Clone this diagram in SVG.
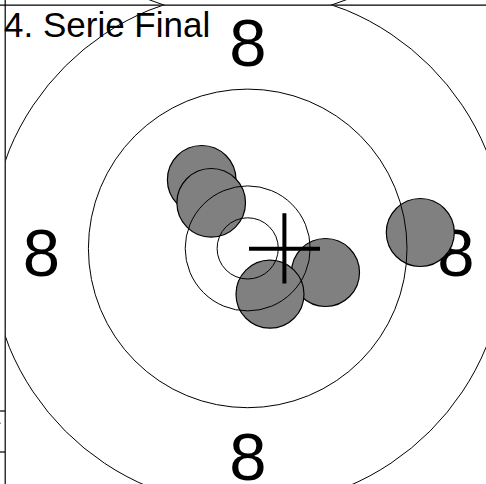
<svg xmlns="http://www.w3.org/2000/svg" width="486" height="484" viewBox="0 0 486 484">
  <style>
    .ring { fill: none; stroke: #000; stroke-width: 1; }
    .shot { fill: #808080; stroke: #000; stroke-width: 1.2; }
    .num { font-family: "Liberation Sans", Arial, sans-serif; font-size: 67px; fill: #000; text-anchor: middle; }
    .title { font-family: "Liberation Sans", Arial, sans-serif; font-size: 35px; fill: #000; }
    .frame { stroke: #000; stroke-width: 1.2; fill: none; }
    .cross { stroke: #000; stroke-width: 4; }
  </style>
  <defs>
    <clipPath id="panel"><rect x="5.6" y="5.6" width="481" height="479"/></clipPath>
    <clipPath id="above"><rect x="5.6" y="0" width="481" height="5"/></clipPath>
  </defs>
  <rect width="486" height="484" fill="#fff"/>
  <g id="above-panel" clip-path="url(#above)">
    <circle class="ring" cx="247.7" cy="-238.7" r="258"/>
  </g>
  <g id="left-panel">
    <line class="frame" x1="0" y1="411" x2="5" y2="411"/>
    <line class="frame" x1="0" y1="452" x2="5" y2="452"/>
    <rect x="0" y="422.5" width="1" height="1.5" fill="#999"/>
  </g>
  <g id="target" clip-path="url(#panel)">
    <g id="labels">
      <text class="num" x="248" y="66">8</text>
      <text class="num" x="41.5" y="275.5">8</text>
      <text class="num" x="456" y="275.5">8</text>
      <text class="num" x="248" y="480">8</text>
    </g>
    <g id="shots">
      <circle id="shot1" class="shot" cx="201.7" cy="179.8" r="34.3"/>
      <circle id="shot2" class="shot" cx="211.2" cy="202.8" r="34.3"/>
      <circle id="shot3" class="shot" cx="325.5" cy="272.5" r="34"/>
      <circle id="shot4" class="shot" cx="270" cy="294.2" r="34"/>
      <circle id="shot5" class="shot" cx="420.3" cy="232.5" r="34"/>
    </g>
    <g id="rings">
      <circle class="ring" cx="247.7" cy="248.4" r="30.6"/>
      <circle class="ring" cx="247.7" cy="248.4" r="62.5"/>
      <circle class="ring" cx="247.7" cy="248.4" r="159.3"/>
      <circle class="ring" cx="247.7" cy="248.6" r="258"/>
    </g>
    <g id="crosshair">
      <line class="cross" x1="249" y1="248.8" x2="320" y2="248.8"/>
      <line class="cross" x1="284.4" y1="213.3" x2="284.4" y2="283.5"/>
    </g>
  </g>
  <g id="frame">
    <line class="frame" x1="0" y1="5.2" x2="486" y2="5.2"/>
    <line class="frame" x1="5.2" y1="0" x2="5.2" y2="484"/>
  </g>
  <text id="title" class="title" x="4" y="36.7">4. Serie Final</text>
</svg>
